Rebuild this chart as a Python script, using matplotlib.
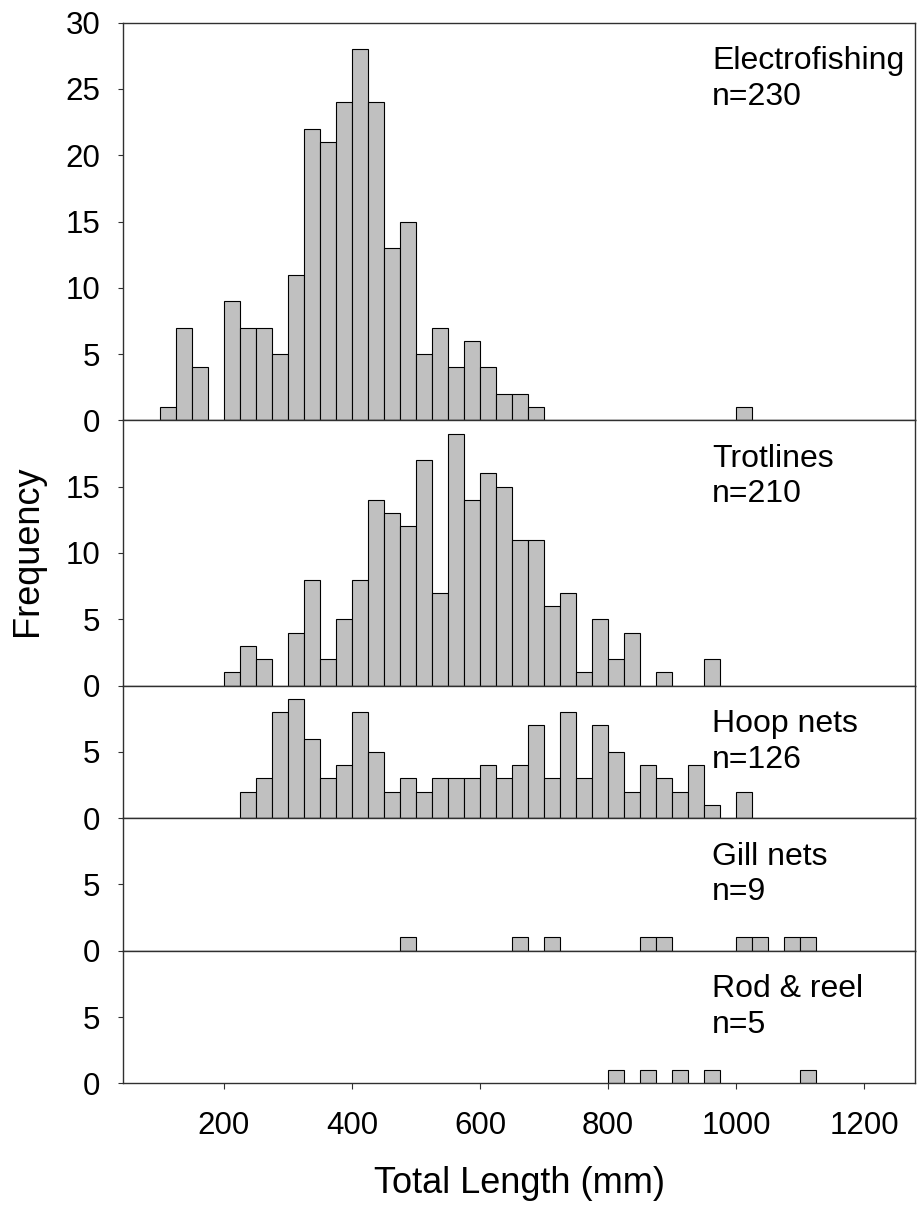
import matplotlib
matplotlib.use("Agg")
import matplotlib.pyplot as plt
import numpy as np

plt.rcParams['font.family'] = ['Liberation Sans', 'DejaVu Sans']

# Length-frequency counts in 25-mm bins; first bin starts at 100 mm
BIN_START = 100
BIN_WIDTH = 25

electrofishing = [1, 7, 4, 0, 9, 7, 7, 5, 11, 22, 21, 24, 28, 24, 13, 15,
                  5, 7, 4, 6, 4, 2, 2, 1, 0, 0, 0, 0, 0, 0, 0, 0, 0, 0, 0,
                  0, 1, 0, 0, 0, 0]
trotlines = [0, 0, 0, 0, 1, 3, 2, 0, 4, 8, 2, 5, 8, 14, 13, 12, 17, 7, 19,
             14, 16, 15, 11, 11, 6, 7, 1, 5, 2, 4, 0, 1, 0, 0, 2, 0, 0, 0,
             0, 0, 0]
hoop_nets = [0, 0, 0, 0, 0, 2, 3, 8, 9, 6, 3, 4, 8, 5, 2, 3, 2, 3, 3, 3, 4,
             3, 4, 7, 3, 8, 3, 7, 5, 2, 4, 3, 2, 4, 1, 0, 2, 0, 0, 0, 0]
gill_nets = [0, 0, 0, 0, 0, 0, 0, 0, 0, 0, 0, 0, 0, 0, 0, 1, 0, 0, 0, 0, 0,
             0, 1, 0, 1, 0, 0, 0, 0, 0, 1, 1, 0, 0, 0, 0, 1, 1, 0, 1, 1]
rod_and_reel = [0, 0, 0, 0, 0, 0, 0, 0, 0, 0, 0, 0, 0, 0, 0, 0, 0, 0, 0, 0,
                0, 0, 0, 0, 0, 0, 0, 0, 1, 0, 1, 0, 1, 0, 1, 0, 0, 0, 0, 0, 1]

methods = ["Electrofishing", "Trotlines", "Hoop nets", "Gill nets", "Rod & reel"]
sample_sizes = [230, 210, 126, 9, 5]
series = [electrofishing, trotlines, hoop_nets, gill_nets, rod_and_reel]
y_max = [30, 20, 10, 10, 10]
y_ticks = [[0, 5, 10, 15, 20, 25, 30], [0, 5, 10, 15], [0, 5], [0, 5], [0, 5]]
x_ticks = [200, 400, 600, 800, 1000, 1200]

FIG_W, FIG_H, DPI = 917, 1205, 100
fig = plt.figure(figsize=(FIG_W / DPI, FIG_H / DPI), dpi=DPI)
gs = fig.add_gridspec(len(series), 1, height_ratios=y_max, hspace=0,
                      left=123.3 / FIG_W, right=914.7 / FIG_W,
                      top=1 - 22.7 / FIG_H, bottom=1 - 1083.3 / FIG_H)

frame_color = "#303030"
tick_size = 22.5
label_size = 23
axis_label_size = 26

axes = []
for i, (counts, name, n) in enumerate(zip(series, methods, sample_sizes)):
    ax = fig.add_subplot(gs[i])
    counts = np.asarray(counts)
    lefts = BIN_START + BIN_WIDTH * np.arange(len(counts))
    keep = counts > 0
    ax.bar(lefts[keep], counts[keep], width=BIN_WIDTH, align='edge',
           color='#c0c0c0', edgecolor='black', linewidth=0.8, zorder=2)
    ax.set_xlim(43, 1279)
    ax.set_ylim(0, y_max[i])
    ax.set_yticks(y_ticks[i])
    ax.set_xticks(x_ticks)
    for sp in ax.spines.values():
        sp.set_color(frame_color)
        sp.set_linewidth(1.0)
    ax.tick_params(axis='y', direction='out', length=3.6, width=0.8,
                   color=frame_color, labelsize=tick_size, pad=13)
    ax.tick_params(axis='x', direction='out', length=4.5, width=0.8,
                   color=frame_color, labelsize=tick_size, pad=15.5)
    if i < len(series) - 1:
        ax.tick_params(axis='x', bottom=False, labelbottom=False)
    ax.annotate(name, xy=(0.744, 1), xycoords='axes fraction',
                xytext=(0, -33.5), textcoords='offset points',
                ha='left', va='baseline', fontsize=label_size)
    ax.annotate(f"n={n}", xy=(0.744, 1), xycoords='axes fraction',
                xytext=(0, -59), textcoords='offset points',
                ha='left', va='baseline', fontsize=label_size)
    axes.append(ax)

axes[-1].set_xlabel("Total Length (mm)", fontsize=axis_label_size, labelpad=18)
fig.text(28 / FIG_W, 1 - 551 / FIG_H, "Frequency", rotation=90,
         ha='center', va='center', fontsize=axis_label_size)

fig.savefig("out.png", dpi=DPI)
